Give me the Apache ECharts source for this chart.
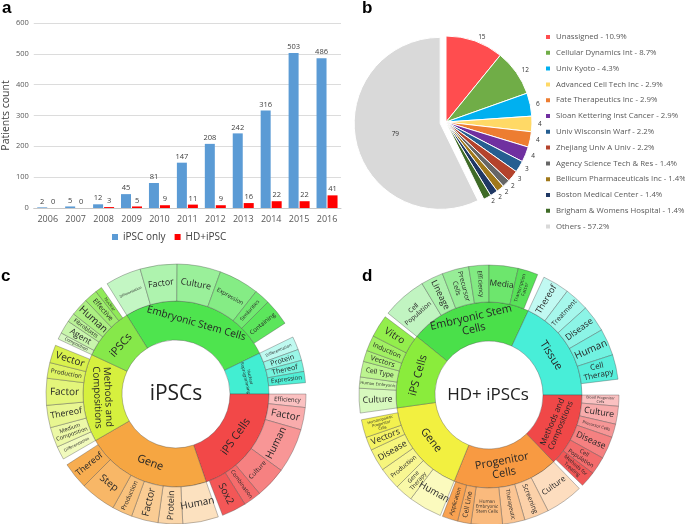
<!DOCTYPE html>
<html><head><meta charset="utf-8">
<script src="https://cdn.jsdelivr.net/npm/echarts@6/dist/echarts.min.js"></script>
<style>html,body{margin:0;padding:0;background:#fff}#main{width:685px;height:524px}</style>
</head><body><div id="main"></div>
<script>
// ---------- Panel a: bar chart ----------
const years = ['2006','2007','2008','2009','2010','2011','2012','2013','2014','2015','2016'];
const ipscOnly = [2,5,12,45,81,147,208,242,316,503,486];
const hdIpsc = [0,0,3,5,9,11,9,16,22,22,41];
const yTicks = {min:0, max:600, interval:100};

// ---------- Panel b: pie ----------
const pieNames = ['Unassigned','Cellular Dynamics Int','Univ Kyoto','Advanced Cell Tech Inc','Fate Therapeutics Inc','Sloan Kettering Inst Cancer','Univ Wisconsin Warf','Zhejiang Univ A Univ','Agency Science Tech & Res','Bellicum Pharmaceuticals Inc','Boston Medical Center','Brigham & Womens Hospital','Others'];
const pieValues = [15,12,6,4,4,4,3,3,2,2,2,2,79];
const pieColors = ['#ff4d4f','#70ad47','#00b0f0','#ffd966','#ed7d31','#7030a0','#255e91','#b4432c','#666666','#a0781a','#1f3864','#3f6b27','#d9d9d9'];

// ---------- Panel c: sunburst (iPSCs) ----------
const cParents = ['Embryonic Stem Cells','Nuclear\nReprogramming','iPS Cells','Gene','Methods and\nCompositions','iPSCs'];
const cParentValues = [96,26,71,79,55,33];
const cParentColors = ['#4ee44e','#42eed2','#f24848','#f6a642','#d6f03e','#86e84a'];
const cChildNames = [
  ['Differentiation','Factor','Culture','Expression','Similarities','Containing'],
  ['Differentiation','Protein','Thereof','Expression'],
  ['Efficiency','Factor','Human','Culture','Combination','Sox2'],
  ['Human','Protein','Factor','Production','Step','Thereof'],
  ['Differentiation','Medium\nComposition','Thereof','Factor','Production','Vector'],
  ['Composition','Agent','Fibroblasts','Human','Effective','Nuclear']
];
const cChildValues = [
  [16,16.5,19.5,18,7,12],
  [6,5,5,5],
  [6,10,20,14,8,11],
  [16,11,12,9,16,12],
  [6,9,10,12,7,8],
  [3,6,4,8,6,3]
];

// ---------- Panel d: sunburst (HD+ iPSCs) ----------
const dParents = ['Embryonic Stem\nCells','Tissue','Methods and\nCompositions','Progenitor\nCells','Gene','iPS Cells'];
const dParentValues = [76,65,46,66,60,47];
const dParentColors = ['#4ae04a','#48eed8','#f04848','#f89a42','#f2f040','#8aec3c'];
const dChildNames = [
  ['Cell\nPopulation','Lineage','Precursor\nCells','Efficiency','Media','Transcription\nFactor'],
  ['Thereof','Treatment','Disease','Human','Cell\nTherapy'],
  ['Blood Progenitor\nCells','Culture','Precursor Cells','Disease','Cell\nPopulation','Methods for\nTreating'],
  ['Culture','Screening','Therapeutic','Human\nEmbryonic\nStem Cells','Cell Line','Application'],
  ['Human','Gene\nTherapy','Production','Disease','Vectors','Hematopoietic\nProgenitor\nCells'],
  ['Culture','Human Embryonic','Cell Type','Vectors','Induction','Vitro']
];
const dChildValues = [
  [20,10,12,9,13,9],
  [12,11,12,12,11],
  [5,8,6,10,8,7],
  [17,11,10,14,6,7],
  [15,8,10,10,6,8],
  [11,5,7,5,7,10]
];

// ---------- helpers (styling only) ----------
const R0 = 54, R1 = 93, R2 = 130;
function shade(hex, t){
  const n = parseInt(hex.slice(1),16);
  const c = [(n>>16)&255,(n>>8)&255,n&255];
  const f = v => Math.round(t>=0 ? v+(255-v)*t : v*(1+t));
  return 'rgb('+c.map(f).join(',')+')';
}
function fitFont(name, deg, rMid, thick, tang, maxFs){
  const lines = name.split('\n');
  const longest = Math.max.apply(null, lines.map(s=>s.length));
  const arc = deg*Math.PI/180*rMid;
  const along = tang ? arc : thick;
  const across = tang ? thick : arc;
  const fsW = along*0.88/(longest*0.53);
  const fsH = across*0.85/(lines.length*1.15);
  return Math.max(3.5, Math.min(maxFs, fsW, fsH));
}
function buildSun(parents, pVals, pCols, kids, kVals){
  return parents.map((p,i)=>{
    const fsP = fitFont(p, pVals[i], (R0+R1)/2, R1-R0, true, 11);
    return {
      name:p, value:pVals[i],
      itemStyle:{color:pCols[i]},
      label:{rotate:'tangential', fontSize:fsP, lineHeight:fsP*1.1},
      children: kids[i].map((k,j)=>{
        const n = kids[i].length;
        const t = 0.66 - 0.58*j/(n-1);
        const v = kVals[i][j];
        const tang = v >= 13;
        const fs = fitFont(k, v, (R1+R2)/2, R2-R1, tang, 10);
        return {name:k, value:v, itemStyle:{color:shade(pCols[i], t)},
          label:{rotate: tang?'tangential':'radial', fontSize:fs, lineHeight:fs*1.1}};
      })
    };
  });
}
function sunSeries(center, startAngle, data){
  return {
    type:'sunburst', center:center, radius:[R0,R2], startAngle:startAngle,
    sort:null, nodeClick:false, silent:true,
    emphasis:{disabled:true},
    itemStyle:{borderColor:'rgba(70,70,70,0.5)', borderWidth:0.7},
    label:{color:'#262626', fontFamily:'Open Sans', align:'center'},
    levels:[{}, {r0:R0, r:R1}, {r0:R1, r:R2}],
    data:data
  };
}

const pieTotal = pieValues.reduce((a,b)=>a+b,0);
const chart = echarts.init(document.getElementById('main'), null, {renderer:'canvas'});
chart.setOption({
  animation:false,
  textStyle:{fontFamily:'Open Sans'},
  grid:{left:31, top:23, width:310, height:185},
  xAxis:{type:'category', data:years,
    axisLine:{lineStyle:{color:'#c8c8c8'}}, axisTick:{show:false},
    axisLabel:{fontSize:9, color:'#595959', margin:7, interval:0}},
  yAxis:{type:'value', min:yTicks.min, max:yTicks.max, interval:yTicks.interval,
    name:'Patients count', nameLocation:'middle', nameGap:19,
    nameTextStyle:{fontSize:10.5, color:'#404040'},
    axisLine:{show:false}, axisTick:{show:false},
    axisLabel:{fontSize:7.5, color:'#595959', margin:5},
    splitLine:{lineStyle:{color:'#dcdcdc'}}},
  legend:[
    {data:['iPSC only','HD+iPSC'], left:112, top:232, padding:0, itemWidth:6, itemHeight:6, itemGap:9,
     icon:'rect', textStyle:{fontSize:10, color:'#404040'}},
    {data:pieNames, orient:'vertical', left:544, top:33, padding:0, itemWidth:6, itemHeight:6, itemGap:7.8,
     icon:'rect', textStyle:{fontSize:7.8, color:'#595959'},
     formatter:function(name){const i=pieNames.indexOf(name);return name+' - '+(pieValues[i]/pieTotal*100).toFixed(1)+'%';}}
  ],
  graphic:[
    {type:'text', x:2, y:0, style:{text:'a', font:'bold 17px "Liberation Sans"', fill:'#000'}},
    {type:'text', x:362, y:0, style:{text:'b', font:'bold 17px "Liberation Sans"', fill:'#000'}},
    {type:'text', x:1, y:268, style:{text:'c', font:'bold 17px "Liberation Sans"', fill:'#000'}},
    {type:'text', x:362, y:268, style:{text:'d', font:'bold 17px "Liberation Sans"', fill:'#000'}},
    {type:'text', x:176, y:394, style:{text:'iPSCs', font:'21px "Open Sans"', fill:'#222', textAlign:'center', textVerticalAlign:'middle'}},
    {type:'text', x:488, y:395, style:{text:'HD+ iPSCs', font:'17px "Open Sans"', fill:'#222', textAlign:'center', textVerticalAlign:'middle'}}
  ],
  series:[
    {name:'iPSC only', type:'bar', data:ipscOnly, barWidth:10, barGap:'10%',
     itemStyle:{color:'#5b9bd5'},
     label:{show:true, position:'top', fontSize:7.5, color:'#404040', distance:2}},
    {name:'HD+iPSC', type:'bar', data:hdIpsc, barWidth:10,
     itemStyle:{color:'#ff0000'},
     label:{show:true, position:'top', fontSize:7.5, color:'#404040', distance:2}},
    {type:'pie', center:[446,122], radius:[0,86], startAngle:90, clockwise:true,
     avoidLabelOverlap:false, selectedMode:'single', selectedOffset:6, silent:true,
     emphasis:{disabled:true},
     itemStyle:{borderColor:'#fff', borderWidth:1},
     label:{show:true, position:'outside', formatter:'{c}', fontSize:6.5, color:'#333', distanceToLabelLine:2},
     labelLine:{show:false, length:4, length2:0},
     data:pieNames.map((n,i)=>({name:n, value:pieValues[i], itemStyle:{color:pieColors[i]},
       selected: i===pieNames.length-1,
       label: i===pieNames.length-1 ? {position:'inside'} : undefined}))},
    sunSeries([176,394], 122, buildSun(cParents,cParentValues,cParentColors,cChildNames,cChildValues)),
    sunSeries([489,395], 141, buildSun(dParents,dParentValues,dParentColors,dChildNames,dChildValues))
  ]
});
</script></body></html>
